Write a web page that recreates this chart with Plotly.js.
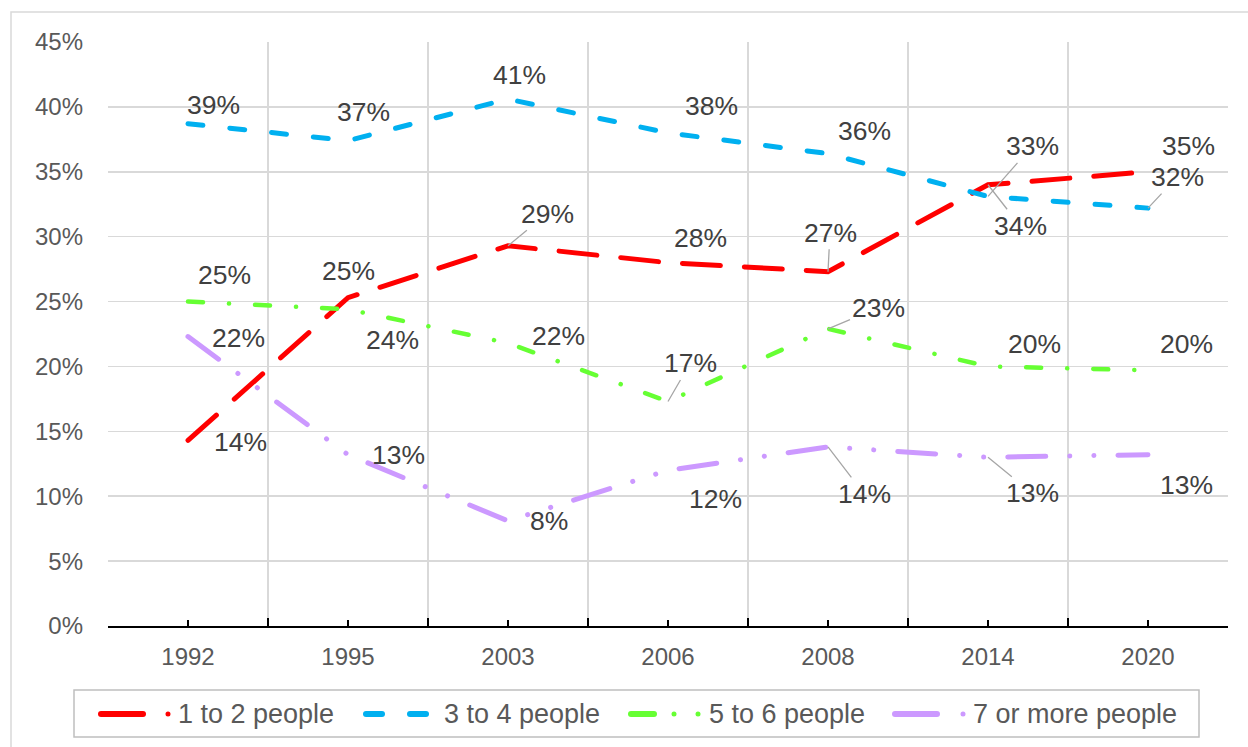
<!DOCTYPE html>
<html>
<head>
<meta charset="utf-8">
<script src="https://cdn.plot.ly/plotly-3.0.1.min.js"></script>
<style>
  body { margin: 0; background: #fff; }
  #graph { width: 1248px; height: 747px; }
  /* Excel style round dash ends */
  .js-line, .shapelayer path { stroke-linecap: round; }
</style>
</head>
<body>
<div id="graph"></div>
<script>
// survey years (categories)
var years = ["1992", "1995", "2003", "2006", "2008", "2014", "2020"];

// share of households, percent
var oneToTwo = [14.3, 25.3, 29.3, 28.0, 27.3, 34.0, 35.0];
var threeToFour = [38.7, 37.4, 40.6, 38.0, 36.4, 33.1, 32.2];
var fiveToSix = [25.0, 24.4, 21.8, 17.3, 22.9, 20.0, 19.7];
var sevenPlus = [22.3, 13.2, 8.1, 12.0, 13.8, 13.0, 13.2];

var seriesNames = ["1 to 2 people", "3 to 4 people", "5 to 6 people", "7 or more people"];
var yTicks = [0, 5, 10, 15, 20, 25, 30, 35, 40, 45];

// label placement: [dx, dy, leader line?] in pixels from the point
var labelPlace = [
    [[52, 2, 0], [0, -27, 0], [39, -32, 1], [32, -25, 0], [2, -39, 1], [32, 41, 1], [40, -26, 0]],
    [[25, -19, 0], [15, -29, 0], [11, -24, 0], [43, -27, 0], [36, -23, 0], [44, -50, 1], [29, -31, 1]],
    [[36, -27, 0], [44, 31, 0], [50, -7, 0], [22, -38, 1], [50, -21, 1], [46, -22, 0], [38, -26, 0]],
    [[50, 1, 0], [50, 0, 0], [41, 0, 0], [47, 29, 0], [36, 47, 1], [44, 36, 1], [38, 30, 0]]
];

// hand drawn legend (pixel positions), like the Excel legend keys
var legendKeys = [
    { segs: [[101, 143]], dots: [168], textX: 176 },
    { segs: [[366, 382], [410, 426]], dots: [], textX: 442 },
    { segs: [[631, 654]], dots: [674, 698], textX: 707 },
    { segs: [[895, 937]], dots: [963], textX: 971 }
];

var plotL = 108, plotR = 1228, plotT = 42, plotB = 626;
function px2x(px) { return (px - plotL) / (plotR - plotL); }
function py2y(py) { return (plotB - py) / (plotB - plotT); }

function drawGraph() {
    var values = [oneToTwo, threeToFour, fiveToSix, sevenPlus];
    var colors = ["#ff0000", "#00b0f0", "#66ff33", "#cc99ff"];
    var dashes = ["38px,24px", "15px,27px", "15px,26px,0.1px,26px", "38px,24px,0.1px,24px,0.1px,24px"];
    var widths = [5, 5, 4.5, 5];
    var xIdx = years.map(function (y, i) { return i; });
    var labelFont = { family: "Liberation Sans, Arial, sans-serif", size: 26.5, color: "#404040" };

    var data = [];
    var annotations = [];
    var shapes = [];

    // outer chart border (only left / top edges are in the picture)
    shapes.push({
        type: "rect", xref: "paper", yref: "paper",
        x0: px2x(11), x1: px2x(1300), y0: py2y(800), y1: py2y(12),
        line: { color: "#d9d9d9", width: 1.5 }, layer: "below"
    });

    for (var s = 0; s < values.length; s++) {
        data.push({
            x: xIdx,
            y: values[s],
            type: "scatter",
            mode: "lines",
            name: seriesNames[s],
            line: { color: colors[s], width: widths[s], dash: dashes[s] },
            hoverinfo: "skip"
        });

        for (var i = 0; i < years.length; i++) {
            var p = labelPlace[s][i];
            var a = {
                x: xIdx[i],
                y: values[s][i],
                xref: "x",
                yref: "y",
                text: Math.round(values[s][i]) + "%",
                font: labelFont
            };
            if (p[2]) {
                a.showarrow = true;
                a.arrowhead = 0;
                a.arrowwidth = 1.3;
                a.arrowcolor = "#a6a6a6";
                a.ax = p[0];
                a.ay = p[1];
                a.standoff = 0;
            } else {
                a.showarrow = false;
                a.xshift = p[0];
                a.yshift = -p[1];
            }
            annotations.push(a);
        }

        // legend key
        var k = legendKeys[s];
        var ly = py2y(714);
        k.segs.forEach(function (sg) {
            shapes.push({
                type: "line", xref: "paper", yref: "paper",
                x0: px2x(sg[0]), x1: px2x(sg[1]), y0: ly, y1: ly,
                line: { color: colors[s], width: 6 }
            });
        });
        k.dots.forEach(function (d) {
            shapes.push({
                type: "circle", xref: "paper", yref: "paper",
                x0: px2x(d - 2.5), x1: px2x(d + 2.5), y0: py2y(716.5), y1: py2y(711.5),
                fillcolor: colors[s], line: { width: 0 }
            });
        });
        annotations.push({
            xref: "paper", yref: "paper",
            x: px2x(k.textX), y: ly,
            xanchor: "left", yanchor: "middle",
            showarrow: false,
            text: seriesNames[s],
            font: { family: "Liberation Sans, Arial, sans-serif", size: 27, color: "#595959" }
        });
    }

    // legend frame
    shapes.push({
        type: "rect", xref: "paper", yref: "paper",
        x0: px2x(74), x1: px2x(1199), y0: py2y(737), y1: py2y(690),
        line: { color: "#bfbfbf", width: 1.5 }
    });

    var bounds = [];
    for (var b = 0; b <= years.length; b++) {
        bounds.push(b - 0.5);
    }

    var layout = {
        width: 1248,
        height: 747,
        margin: { l: plotL, r: 1248 - plotR, t: plotT, b: 747 - plotB },
        paper_bgcolor: "#ffffff",
        plot_bgcolor: "#ffffff",
        font: { family: "Liberation Sans, Arial, sans-serif", size: 24, color: "#595959" },
        showlegend: false,
        xaxis: {
            range: [-0.5, years.length - 0.5],
            tickmode: "array",
            tickvals: xIdx,
            ticktext: years,
            tickfont: { size: 24, color: "#595959" },
            ticks: "inside",
            ticklen: 6,
            tickwidth: 2,
            tickcolor: "#000000",
            ticklabelstandoff: 8,
            showgrid: false,
            zeroline: false,
            showline: true,
            linecolor: "#000000",
            linewidth: 2,
            fixedrange: true,
            minor: {
                tickmode: "array",
                tickvals: bounds,
                showgrid: true,
                gridcolor: "#d9d9d9",
                gridwidth: 1.5,
                ticks: "inside",
                ticklen: 8,
                tickwidth: 2,
                tickcolor: "#000000"
            }
        },
        yaxis: {
            range: [0, 45],
            tickmode: "array",
            tickvals: yTicks,
            ticktext: yTicks.map(function (v) { return v + "%"; }),
            tickfont: { size: 24, color: "#595959" },
            showgrid: true,
            gridcolor: "#d9d9d9",
            gridwidth: 1.5,
            zeroline: false,
            showline: false,
            ticks: "",
            ticklabelstandoff: 24,
            fixedrange: true
        },
        annotations: annotations,
        shapes: shapes
    };

    Plotly.newPlot("graph", data, layout, { displayModeBar: false, staticPlot: true });
}

drawGraph();
</script>
</body>
</html>
